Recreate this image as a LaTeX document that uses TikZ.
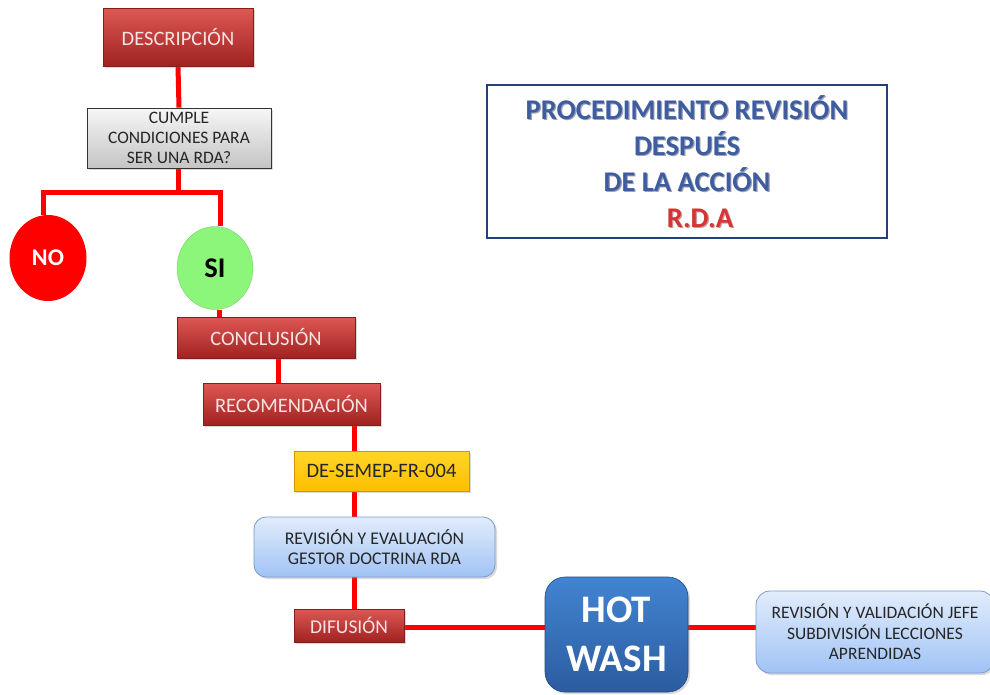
\documentclass[tikz,border=0pt]{standalone}
\usepackage{fontspec}
\setmainfont{Carlito}
\usetikzlibrary{shadows,shapes.geometric,backgrounds}

\definecolor{linkred}{RGB}{255,0,0}
\definecolor{boxredtop}{RGB}{222,88,84}
\definecolor{boxredbot}{RGB}{160,34,32}
\definecolor{boxredline}{RGB}{130,30,28}
\definecolor{boxredtext}{RGB}{246,228,228}
\definecolor{graytop}{RGB}{246,246,246}
\definecolor{graybot}{RGB}{196,196,196}
\definecolor{nored}{RGB}{255,0,0}
\definecolor{sigreen}{RGB}{140,246,122}
\definecolor{goldtop}{RGB}{255,214,40}
\definecolor{goldbot}{RGB}{255,190,0}
\definecolor{goldline}{RGB}{214,150,0}
\definecolor{paletop}{RGB}{226,236,252}
\definecolor{palebot}{RGB}{160,195,245}
\definecolor{paleline}{RGB}{120,155,210}
\definecolor{hottop}{RGB}{66,132,210}
\definecolor{hotbot}{RGB}{44,92,160}
\definecolor{titleline}{RGB}{36,64,120}
\definecolor{titletext}{RGB}{62,92,160}
\definecolor{titleshade}{RGB}{40,50,90}
\definecolor{rdared}{RGB}{214,52,52}

\newcommand{\fsz}[2]{\fontsize{#1}{#2}\selectfont}
\newcommand{\headingtext}[1]{PROCEDIMIENTO REVISIÓN\\DESPUÉS\\DE LA ACCIÓN\\\hspace*{26pt}\textcolor{#1}{R.D.A}}

\begin{document}
\begin{tikzpicture}[x=1pt,y=-1pt,
  link/.style={draw=linkred, line width=5pt},
  softshadow/.style={drop shadow={opacity=0.3, shadow xshift=2pt, shadow yshift=-2pt}},
  redbox/.style={rectangle, draw=boxredline, line width=0.6pt,
    top color=boxredtop, bottom color=boxredbot, text=boxredtext,
    inner sep=0pt, softshadow, font=\fsz{20.5}{24}},
  graybox/.style={rectangle, draw=black!80, line width=0.8pt,
    top color=graytop, bottom color=graybot, text=black!85,
    inner sep=0pt, softshadow, align=center, font=\fsz{17.5}{20}},
  goldbox/.style={rectangle, draw=goldline, line width=0.8pt,
    top color=goldtop, bottom color=goldbot, text=black!85,
    inner sep=0pt, softshadow, font=\fsz{20.5}{24}},
  palebox/.style={rectangle, rounded corners=12pt, draw=paleline, line width=0.8pt,
    top color=paletop, bottom color=palebot, text=black!85,
    inner sep=0pt, softshadow, align=center, font=\fsz{17.8}{20.5}},
  hotbox/.style={rectangle, rounded corners=20pt, draw=hotbot!80!black, line width=0.6pt,
    top color=hottop, bottom color=hotbot, text=white,
    inner sep=0pt, softshadow, align=center, font=\bfseries\fsz{39}{49}},
  answer/.style={ellipse, inner sep=0pt, font=\bfseries},
  titlebox/.style={rectangle, draw=titleline, line width=1.6pt, fill=white, inner sep=0pt},
  titlefont/.style={align=center, text=titletext, font=\bfseries\fsz{28.5}{36}}
]
\useasboundingbox (0,0) rectangle (990,694);

% main chain of steps
\node[redbox, minimum width=150pt, minimum height=58pt] (desc) at (178,37) {DESCRIPCIÓN};
\node[graybox, minimum width=184pt, minimum height=60pt] (cumple) at (179,138)
  {CUMPLE\\CONDICIONES PARA\\SER UNA RDA?};
\node[answer, fill=nored, text=white, minimum width=77pt, minimum height=86pt,
  font=\bfseries\fsz{24}{28}] (no) at (48,258) {NO};
\node[answer, fill=sigreen, draw=sigreen!80!black, line width=0.3pt, text=black,
  minimum width=76pt, minimum height=83pt, font=\bfseries\fsz{28.5}{32}] (si) at (215,268) {SI};
\node[redbox, minimum width=178pt, minimum height=41pt] (concl) at (266,337.5) {CONCLUSIÓN};
\node[redbox, minimum width=177pt, minimum height=42pt] (recom) at (291.5,404) {RECOMENDACIÓN};
\node[goldbox, minimum width=175pt, minimum height=40pt] (desemep) at (381.5,471) {DE-SEMEP-FR-004};
\node[palebox, minimum width=241pt, minimum height=60pt] (rev) at (374.5,547)
  {REVISIÓN Y EVALUACIÓN\\GESTOR DOCTRINA RDA};
\node[redbox, minimum width=110pt, minimum height=33pt, font=\fsz{19.5}{22}] (difu) at (349,625.5) {DIFUSIÓN};
\node[hotbox, minimum width=143pt, minimum height=115pt] (hot) at (616.5,634.5) {HOT\\WASH};
\node[palebox, rounded corners=14pt, minimum width=238pt, minimum height=82pt, font=\fsz{17.5}{20.5}] (final) at (875,632)
  {REVISIÓN Y VALIDACIÓN JEFE\\SUBDIVISIÓN LECCIONES\\APRENDIDAS};

% heading, with a soft dark halo behind the letters
\node[titlebox, minimum width=400pt, minimum height=153pt] (title) at (687,161.5) {};
\node[titlefont, text=titleshade, opacity=0.45] (titlehalo) at ([xshift=1.2pt,yshift=-1.2pt]title.center)
  {\headingtext{rdared!60!black}};
\node[titlefont] (titletxt) at (title.center) {\headingtext{rdared}};

% connectors, kept behind the shapes
\coordinate (split) at (178,192);
\coordinate (spine) at (354,0);
\begin{scope}[on background layer]
  \draw[link] (desc.south) -- (cumple.north);
  \draw[link] (cumple.south -| split) -- (split);
  \draw[link] ([xshift=-5pt]no.north) |- (split) -| ([xshift=5pt]si.north);
  \draw[link] ([xshift=4pt]si.south) -- ([xshift=4pt]si.south |- concl.north);
  \draw[link] ([xshift=12pt]concl.south) -- ([xshift=12pt]concl.south |- recom.north);
  \draw[link] (recom.south -| spine) -- (desemep.north -| spine);
  \draw[link] (desemep.south -| spine) -- (rev.north -| spine);
  \draw[link] (rev.south -| spine) -- (difu.north -| spine);
  \draw[link] ([yshift=-1.5pt]difu.east) -- ([yshift=-1.5pt]difu.east -| hot.west);
  \draw[link] ([yshift=-1.5pt]difu.east -| hot.east) -- ([yshift=-1.5pt]difu.east -| final.west);
\end{scope}
\end{tikzpicture}
\end{document}
